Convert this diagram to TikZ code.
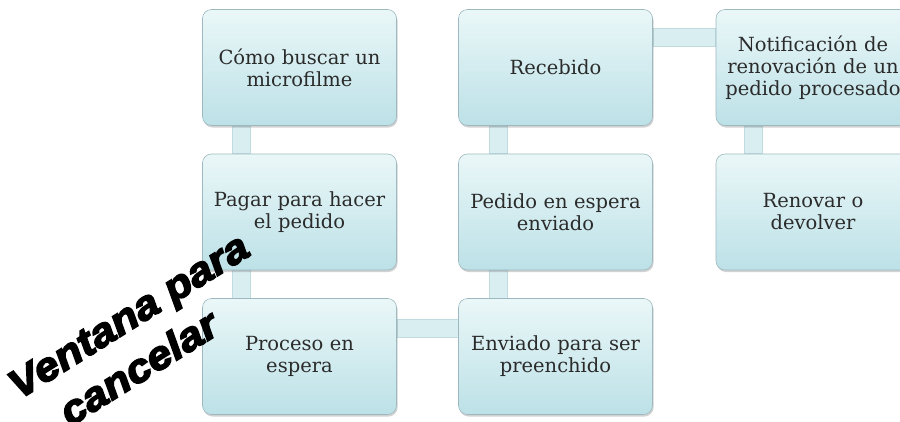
\documentclass[tikz,border=0pt]{standalone}
\usepackage{fontspec}
\setmainfont{DejaVu Serif}
\newfontfamily\ventfont[FakeBold=4,FakeStretch=1.1]{Liberation Sans}
\usetikzlibrary{shadows}
\pgfdeclarelayer{background}
\pgfsetlayers{background,main}
\definecolor{boxtop}{HTML}{EAF7F8}
\definecolor{boxbot}{HTML}{BCE1E7}
\definecolor{boxline}{HTML}{9DB9BF}
\definecolor{barfill}{HTML}{D8EEF1}
\definecolor{barline}{HTML}{C0DCE1}
\definecolor{txt}{HTML}{2B2B2B}
\tikzset{
  stepbox/.style={rounded corners=9pt, minimum width=194pt, minimum height=116pt,
    text width=185pt, align=center, top color=boxtop, bottom color=boxbot,
    draw=boxline, line width=0.6pt, text=txt,
    font=\fontsize{19.5}{22}\selectfont,
    drop shadow={shadow xshift=1pt, shadow yshift=-2pt, opacity=0.35}},
  bar/.style={fill=barfill, draw=barline, line width=0.5pt},
  vent/.style={rotate=32, anchor=base west, inner sep=0pt,
    font=\ventfont\bfseries\itshape\fontsize{40}{40}\selectfont, text=black}
}
\begin{document}
\begin{tikzpicture}[x=1pt,y=-1pt]
\useasboundingbox (0,0) rectangle (900,421);
\clip (0,0) rectangle (900,421);
\node[stepbox] (b1) at (299.5,67.5) {Cómo buscar un\\microfilme};
\node[stepbox] (b2) at (299.5,212) {Pagar para hacer\\el pedido};
\node[stepbox] (b3) at (299.5,356.5) {Proceso en\\espera};
\node[stepbox] (c3) at (555.5,356.5) {Enviado para ser\\preenchido};
\node[stepbox] (c2) at (555.5,212) {Pedido en espera\\enviado};
\node[stepbox] (c1) at (555.5,67.5) {Recebido};
\node[stepbox] (d1) at (813,67.5) {Notificación de\\renovación de un\\pedido procesado};
\node[stepbox] (d2) at (813,212) {Renovar o\\devolver};
\begin{pgfonlayer}{background}
  \fill[white] (0,0) rectangle (900,421);
  \draw[bar] ([xshift=30pt]b1.south west) rectangle ([xshift=48pt]b2.north west);
  \draw[bar] ([xshift=30pt]b2.south west) rectangle ([xshift=48pt]b3.north west);
  \draw[bar] ([yshift=-21pt]b3.north east) rectangle ([yshift=-39pt]c3.north west);
  \draw[bar] ([xshift=31pt]c2.south west) rectangle ([xshift=49pt]c3.north west);
  \draw[bar] ([xshift=31pt]c1.south west) rectangle ([xshift=49pt]c2.north west);
  \draw[bar] ([yshift=-19pt]c1.north east) rectangle ([yshift=-37pt]d1.north west);
  \draw[bar] ([xshift=29pt]d1.south west) rectangle ([xshift=47pt]d2.north west);
\end{pgfonlayer}
\node[vent] (v1) at (19,400) {Ventana para};
\node[vent] (v2) at (70,427) {cancelar};
\end{tikzpicture}
\end{document}
